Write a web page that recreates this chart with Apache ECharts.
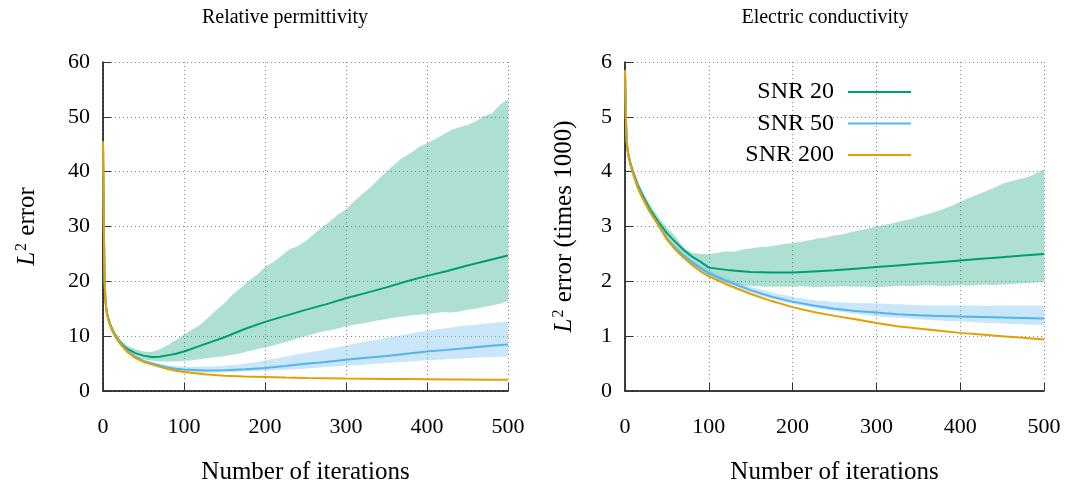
<!DOCTYPE html>
<html>
<head>
<meta charset="utf-8">
<title>L2 error vs iterations</title>
<script src="https://cdn.jsdelivr.net/npm/echarts@6/dist/echarts.min.js"></script>
<style>
  html, body { margin: 0; padding: 0; background: #fff; }
  #chart { width: 1072px; height: 490px; }
</style>
</head>
<body>
<div id="chart"></div>
<script>
// Iteration grids: curves (mean error) and bands (min/max over noise realisations)
const iterCurve = [0, 1, 2, 3, 4, 5, 7, 10, 15, 20, 25, 30, 40, 50, 60, 70, 80, 90, 100,
  125, 150, 175, 200, 225, 250, 275, 300, 325, 350, 375, 400, 425, 450, 475, 500];
const iterBand = [0, 1, 2, 3, 4, 5, 7, 10, 15, 20, 25, 30, 40, 50, 60, 70, 80, 90,
  100, 110, 120, 130, 140, 150, 160, 170, 180, 190,
  200, 210, 220, 230, 240, 250, 260, 270, 280, 290,
  300, 310, 320, 330, 340, 350, 360, 370, 380, 390,
  400, 410, 420, 430, 440, 450, 460, 470, 480, 490, 500];

const seriesNames = ['SNR 20', 'SNR 50', 'SNR 200'];
const xTicks = [0, 100, 200, 300, 400, 500];

// ---- Relative permittivity ----
const permSnr20 = [45.5, 30, 20, 16.6, 15.1, 14.2, 13.0, 11.7, 10.2, 9.1, 8.3, 7.7, 6.9, 6.45, 6.2, 6.25, 6.5, 6.8, 7.2,
  8.5, 9.8, 11.3, 12.6, 13.7, 14.8, 15.8, 16.9, 17.9, 18.9, 20.0, 21.0, 21.9, 22.9, 23.8, 24.7];
const permSnr50 = [45.5, 30, 20, 16.5, 15, 14.05, 12.85, 11.55, 10.05, 9.0, 8.05, 7.35, 6.2, 5.5, 5.05, 4.65, 4.3, 4.05, 3.9,
  3.75, 3.8, 3.95, 4.2, 4.55, 4.95, 5.3, 5.7, 6.05, 6.4, 6.8, 7.2, 7.5, 7.85, 8.2, 8.5];
const permSnr200 = [45.5, 30, 20, 16.5, 15, 14, 12.8, 11.5, 10, 8.9, 8.0, 7.1, 6.0, 5.3, 4.85, 4.4, 4.0, 3.7, 3.45,
  3.05, 2.8, 2.65, 2.55, 2.45, 2.38, 2.33, 2.28, 2.24, 2.2, 2.17, 2.14, 2.11, 2.09, 2.07, 2.05];

const permSnr20Hi = [46, 31, 21, 17.3, 15.8, 14.9, 13.6, 12.3, 10.8, 9.7, 8.9, 8.3, 7.6, 7.2, 7.1, 7.6, 8.4, 9.3,
  10.3, 11.2, 12.1, 13.4, 14.8, 16.0, 17.6, 18.8, 20.1, 21.2,
  22.6, 23.5, 24.6, 25.8, 26.4, 27.3, 28.6, 29.8, 30.9, 32.2,
  33.1, 34.6, 35.9, 37.1, 38.6, 40.0, 41.3, 42.6, 43.4, 44.5,
  45.2, 45.9, 46.8, 47.6, 48.1, 48.5, 49.2, 50.1, 50.6, 52.2, 53.2];
const permSnr20Lo = [45, 29, 19, 15.7, 14.3, 13.4, 12.3, 11.0, 9.5, 8.4, 7.6, 7.0, 6.2, 5.8, 5.5, 5.4, 5.4, 5.4,
  5.45, 5.6, 5.8, 6.0, 6.2, 6.4, 6.6, 6.9, 7.3, 7.6,
  8.0, 8.3, 8.7, 9.1, 9.6, 10.0, 10.4, 10.8, 11.1, 11.4,
  11.8, 12.1, 12.3, 12.6, 12.9, 13.1, 13.4, 13.6, 13.8, 13.9,
  14.1, 14.2, 14.4, 14.3, 14.5, 14.8, 15.0, 15.3, 15.6, 15.9, 16.4];
const permSnr50Hi = [45.8, 30.5, 20.5, 16.9, 15.4, 14.4, 13.1, 11.8, 10.2, 9.1, 8.2, 7.5, 6.4, 5.7, 5.3, 4.95, 4.7, 4.55,
  4.45, 4.4, 4.4, 4.45, 4.5, 4.6, 4.75, 4.9, 5.05, 5.3,
  5.6, 5.85, 6.1, 6.4, 6.7, 6.95, 7.2, 7.45, 7.75, 8.0,
  8.3, 8.6, 8.9, 9.15, 9.4, 9.7, 9.95, 10.2, 10.5, 10.75,
  11.0, 11.2, 11.4, 11.6, 11.8, 11.95, 12.1, 12.25, 12.4, 12.55, 12.7];
const permSnr50Lo = [45.3, 29.5, 19.5, 16.1, 14.6, 13.7, 12.5, 11.3, 9.8, 8.7, 7.9, 7.2, 6.0, 5.3, 4.75, 4.3, 3.95, 3.7,
  3.5, 3.4, 3.35, 3.35, 3.35, 3.4, 3.45, 3.5, 3.6, 3.65,
  3.7, 3.8, 3.85, 3.95, 4.0, 4.1, 4.2, 4.3, 4.4, 4.5,
  4.6, 4.7, 4.8, 4.9, 5.0, 5.1, 5.2, 5.3, 5.4, 5.5,
  5.6, 5.7, 5.75, 5.85, 5.9, 6.0, 6.05, 6.15, 6.2, 6.25, 6.3];

// ---- Electric conductivity (times 1000) ----
const condSnr20 = [5.85, 5.0, 4.55, 4.42, 4.32, 4.25, 4.12, 3.98, 3.76, 3.6, 3.45, 3.31, 3.08, 2.88, 2.72, 2.57, 2.45, 2.36, 2.25,
  2.2, 2.17, 2.16, 2.16, 2.18, 2.2, 2.23, 2.26, 2.29, 2.32, 2.35, 2.38, 2.41, 2.44, 2.47, 2.5];
const condSnr50 = [5.85, 5.0, 4.55, 4.4, 4.3, 4.22, 4.1, 3.95, 3.72, 3.55, 3.4, 3.26, 3.03, 2.78, 2.61, 2.47, 2.35, 2.24, 2.15,
  1.98, 1.84, 1.72, 1.63, 1.56, 1.5, 1.46, 1.43, 1.4, 1.38, 1.37, 1.36, 1.35, 1.34, 1.33, 1.32];
const condSnr200 = [5.85, 5.0, 4.55, 4.4, 4.3, 4.22, 4.1, 3.95, 3.72, 3.55, 3.4, 3.26, 3.02, 2.76, 2.58, 2.43, 2.3, 2.18, 2.09,
  1.92, 1.77, 1.64, 1.53, 1.44, 1.37, 1.31, 1.24, 1.18, 1.14, 1.1, 1.06, 1.03, 1.0, 0.97, 0.94];

const condSnr20Hi = [5.9, 5.1, 4.65, 4.5, 4.4, 4.33, 4.2, 4.06, 3.85, 3.68, 3.53, 3.4, 3.17, 2.98, 2.82, 2.62, 2.52, 2.5,
  2.5, 2.52, 2.55, 2.54, 2.58, 2.6, 2.62, 2.63, 2.66, 2.68,
  2.7, 2.72, 2.75, 2.78, 2.8, 2.84, 2.86, 2.9, 2.93, 2.96,
  3.0, 3.03, 3.06, 3.1, 3.13, 3.18, 3.22, 3.27, 3.32, 3.38,
  3.45, 3.52, 3.58, 3.64, 3.7, 3.78, 3.82, 3.86, 3.9, 3.96, 4.05];
const condSnr20Lo = [5.8, 4.9, 4.45, 4.34, 4.24, 4.17, 4.04, 3.9, 3.68, 3.52, 3.37, 3.23, 3.0, 2.8, 2.62, 2.46, 2.32, 2.2,
  2.1, 2.03, 1.98, 1.95, 1.93, 1.92, 1.91, 1.9, 1.9, 1.9,
  1.9, 1.91, 1.9, 1.89, 1.9, 1.9, 1.91, 1.9, 1.9, 1.9,
  1.89, 1.9, 1.91, 1.92, 1.91, 1.92, 1.93, 1.92, 1.91, 1.92,
  1.93, 1.92, 1.93, 1.94, 1.93, 1.94, 1.95, 1.96, 1.97, 1.98, 1.99];
const condSnr50Hi = [5.87, 5.03, 4.58, 4.43, 4.33, 4.25, 4.13, 3.98, 3.75, 3.58, 3.43, 3.29, 3.06, 2.82, 2.65, 2.51, 2.39, 2.29,
  2.2, 2.13, 2.06, 2.0, 1.95, 1.9, 1.86, 1.82, 1.78, 1.75,
  1.72, 1.69, 1.67, 1.65, 1.64, 1.62, 1.62, 1.61, 1.6, 1.6,
  1.6, 1.59, 1.58, 1.58, 1.57, 1.57, 1.56, 1.56, 1.56, 1.56,
  1.56, 1.56, 1.56, 1.55, 1.56, 1.56, 1.56, 1.56, 1.56, 1.56, 1.56];
const condSnr50Lo = [5.83, 4.97, 4.52, 4.37, 4.27, 4.19, 4.07, 3.92, 3.69, 3.52, 3.37, 3.23, 3.0, 2.75, 2.57, 2.43, 2.31, 2.2,
  2.1, 2.02, 1.95, 1.89, 1.84, 1.79, 1.74, 1.7, 1.66, 1.62,
  1.59, 1.56, 1.53, 1.5, 1.48, 1.46, 1.44, 1.42, 1.4, 1.38,
  1.36, 1.35, 1.34, 1.33, 1.32, 1.31, 1.3, 1.29, 1.28, 1.27,
  1.27, 1.26, 1.25, 1.24, 1.24, 1.23, 1.22, 1.22, 1.21, 1.21, 1.2];

const FONT = 'Liberation Serif';
const colors = { g: '#009e73', b: '#56b4e9', o: '#e69f00' };
const bandFill = { g: 'rgba(0,158,115,0.32)', b: 'rgba(86,180,233,0.32)' };

function pairs(xs, ys) { return xs.map((x, i) => [x, ys[i]]); }

// Shaded min/max band drawn as one polygon through the axis scales
function band(name, gi, lo, hi, fill) {
  return {
    name: name, type: 'custom', xAxisIndex: gi, yAxisIndex: gi,
    clip: true, silent: true,
    data: iterBand.map((x, i) => [x, lo[i], hi[i]]),
    encode: { x: 0, y: [1, 2] },
    renderItem: function (params, api) {
      if (params.dataIndex !== 0) return null;
      const pts = [];
      for (let i = 0; i < iterBand.length; i++) pts.push(api.coord([iterBand[i], hi[i]]));
      for (let i = iterBand.length - 1; i >= 0; i--) pts.push(api.coord([iterBand[i], lo[i]]));
      return { type: 'polygon', shape: { points: pts }, style: { fill: fill, stroke: null } };
    }
  };
}

function curve(name, gi, ys, color) {
  return {
    name: name, type: 'line', xAxisIndex: gi, yAxisIndex: gi,
    data: pairs(iterCurve, ys), symbol: 'none', showSymbol: false,
    lineStyle: { color: color, width: 2 }, itemStyle: { color: color },
    z: 3, animation: false
  };
}

function xAxisDef(gi) {
  return {
    type: 'value', gridIndex: gi, min: 0, max: 500, interval: 100,
    name: 'Number of iterations', nameLocation: 'middle', nameGap: 69,
    nameTextStyle: { fontFamily: FONT, fontSize: 25, color: '#000' },
    axisLine: { show: true, lineStyle: { color: '#000', width: 1.5 } },
    axisTick: { show: true, inside: true, length: 8, lineStyle: { color: '#333', width: 1 } },
    axisLabel: { fontFamily: FONT, fontSize: 22, color: '#000', margin: 25,
      customValues: xTicks, formatter: v => String(v) },
    splitLine: { show: true, lineStyle: { color: '#8c8c8c', width: 1, type: [1, 3] } }
  };
}

function yAxisDef(gi, max, interval, name, gap) {
  return {
    type: 'value', gridIndex: gi, min: 0, max: max, interval: interval,
    name: name, nameLocation: 'middle', nameGap: gap, nameRotate: 90,
    nameTextStyle: {
      fontFamily: FONT, fontSize: 25, color: '#000',
      rich: {
        i: { fontFamily: FONT, fontSize: 25, fontStyle: 'italic', color: '#000' },
        s: { fontFamily: FONT, fontSize: 16, color: '#000', verticalAlign: 'top', padding: [0, 1, 10, 1] },
        t: { fontFamily: FONT, fontSize: 25, color: '#000' }
      }
    },
    axisLine: { show: true, lineStyle: { color: '#000', width: 1.5 } },
    axisTick: { show: true, inside: true, length: 8, lineStyle: { color: '#333', width: 1 } },
    axisLabel: { fontFamily: FONT, fontSize: 22, color: '#000', margin: 13 },
    splitLine: { show: true, lineStyle: { color: '#8c8c8c', width: 1, type: [1, 3] } }
  };
}

const chart = echarts.init(document.getElementById('chart'), null, { renderer: 'canvas' });
chart.setOption({
  animation: false,
  backgroundColor: '#fff',
  textStyle: { fontFamily: FONT },
  grid: [
    { left: 103, right: 564, top: 62, bottom: 97 },
    { left: 625, right: 28, top: 62, bottom: 97 }
  ],
  graphic: [
    { type: 'text', x: 285, y: 18, style: { text: 'Relative permittivity', font: '20px "Liberation Serif"', fill: '#000', align: 'center', verticalAlign: 'middle' } },
    { type: 'text', x: 825, y: 18, style: { text: 'Electric conductivity', font: '20px "Liberation Serif"', fill: '#000', align: 'center', verticalAlign: 'middle' } }
  ],
  legend: {
    data: seriesNames, orient: 'vertical', align: 'right',
    right: 161, top: 80, padding: 0,
    icon: 'rect', itemWidth: 63, itemHeight: 2, itemGap: 7.5,
    textStyle: { fontFamily: FONT, fontSize: 24, lineHeight: 22, color: '#000', padding: [0, 9, 0, 0] }
  },
  xAxis: [xAxisDef(0), xAxisDef(1)],
  yAxis: [
    yAxisDef(0, 60, 10, '{i|L}{s|2}{t| error}', 63),
    yAxisDef(1, 6, 1, '{i|L}{s|2}{t| error (times 1000)}', 48)
  ],
  series: [
    band('SNR 20 range', 0, permSnr20Lo, permSnr20Hi, bandFill.g),
    band('SNR 50 range', 0, permSnr50Lo, permSnr50Hi, bandFill.b),
    band('SNR 20 range', 1, condSnr20Lo, condSnr20Hi, bandFill.g),
    band('SNR 50 range', 1, condSnr50Lo, condSnr50Hi, bandFill.b),
    curve('SNR 20', 0, permSnr20, colors.g),
    curve('SNR 50', 0, permSnr50, colors.b),
    curve('SNR 200', 0, permSnr200, colors.o),
    curve('SNR 20', 1, condSnr20, colors.g),
    curve('SNR 50', 1, condSnr50, colors.b),
    curve('SNR 200', 1, condSnr200, colors.o)
  ]
});
</script>
</body>
</html>
